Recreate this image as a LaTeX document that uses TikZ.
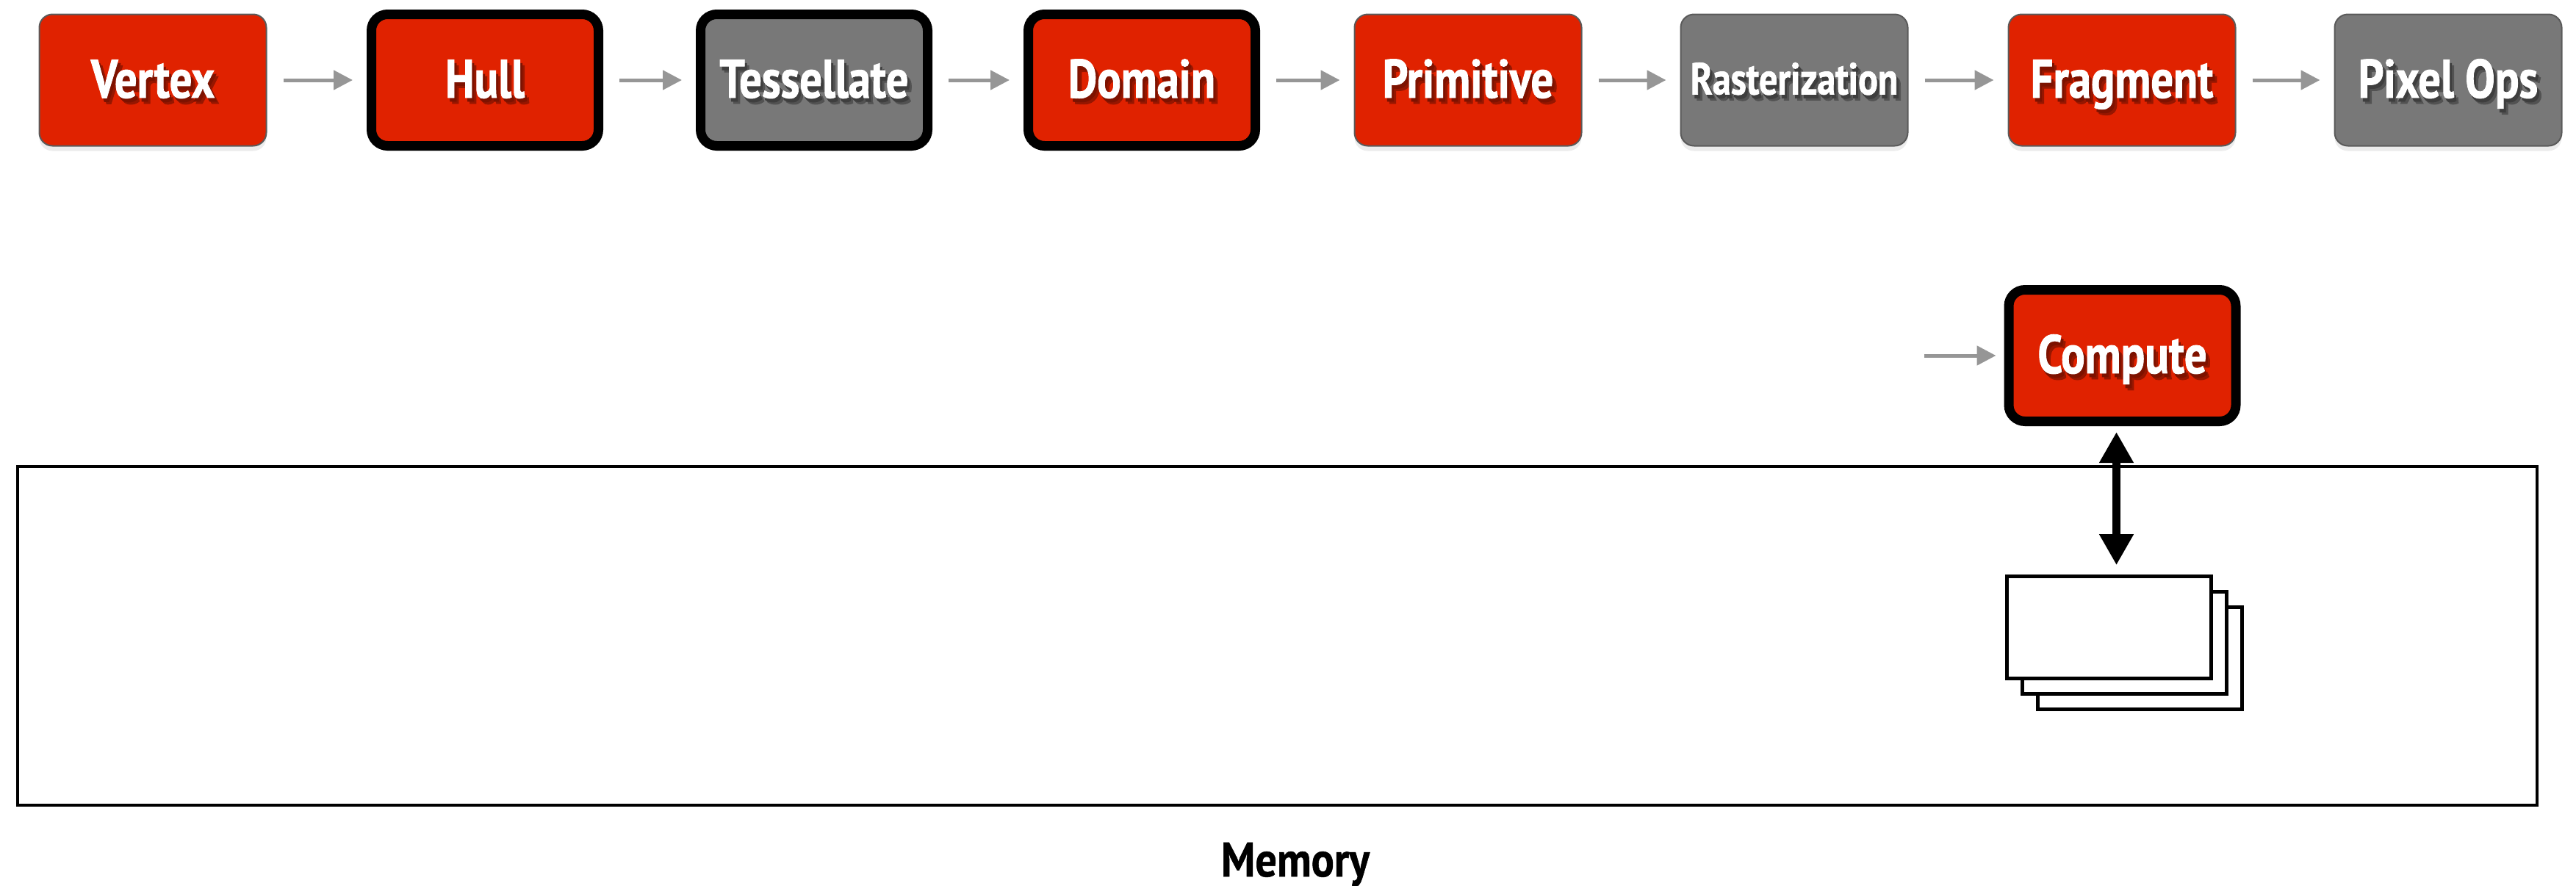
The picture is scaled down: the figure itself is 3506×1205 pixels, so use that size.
\documentclass[tikz,border=0pt]{standalone}
\usepackage{fontspec}
\newfontfamily\stagefont[FakeStretch=0.82, FakeBold=1.2]{PT Sans}
\newfontfamily\memfont[FakeStretch=0.88, FakeBold=0.8]{PT Sans}
\usetikzlibrary{arrows.meta,shadows}

\definecolor{stagered}{RGB}{224,34,0}
\definecolor{stagegray}{RGB}{120,120,120}
\definecolor{rimgray}{RGB}{90,90,90}
\definecolor{flowgray}{RGB}{150,150,150}
\definecolor{redshade}{RGB}{150,22,0}
\definecolor{redshadedeep}{RGB}{125,18,0}
\definecolor{grayshade}{RGB}{82,82,82}
\definecolor{grayshadedeep}{RGB}{62,62,62}

% white label over a soft two-step dark copy
\newcommand\shadedlabel[3]{%
  \makebox[0pt][l]{\hspace{6pt}\raisebox{-8pt}{\textcolor{#1}{#3}}}%
  \makebox[0pt][l]{\hspace{3pt}\raisebox{-5pt}{\textcolor{#2}{#3}}}%
  \textcolor{white}{#3}}
\newcommand\redlabel[1]{\shadedlabel{redshade}{redshadedeep}{#1}}
\newcommand\graylabel[1]{\shadedlabel{grayshade}{grayshadedeep}{#1}}

\tikzset{
  x=1pt, y=-1pt,
  stage/.style={rounded corners=18pt, minimum width=309pt, minimum height=179pt,
    inner sep=0pt, text height=52pt, text depth=4pt,
    font=\stagefont\bfseries\fontsize{74}{80}\selectfont,
    drop shadow={shadow xshift=0pt, shadow yshift=-7pt, opacity=0.15}},
  fixedstage/.style={stage, fill=stagegray, draw=rimgray, line width=2pt},
  shaderstage/.style={stage, fill=stagered, draw=rimgray, line width=2pt},
  newshader/.style={stage, fill=stagered, draw=black, line width=13pt, rounded corners=22pt},
  newfixed/.style={stage, fill=stagegray, draw=black, line width=13pt, rounded corners=22pt},
  flow/.style={draw=flowgray, line width=5pt, -{Triangle[length=26pt,width=26pt]},
    shorten <=22pt, shorten >=19pt},
  sheet/.style={draw=black, fill=white, line width=4.7pt, minimum width=278pt,
    minimum height=139pt, inner sep=0pt},
  access/.style={draw=black, line width=11pt,
    {Triangle[length=42pt,width=44pt]}-{Triangle[length=42pt,width=44pt]}},
}

\begin{document}
\begin{tikzpicture}
\useasboundingbox (0,0) rectangle (3506,1205);

% graphics pipeline stages
\node[shaderstage] (vertex) at (208,109) {\redlabel{Vertex}};
\node[newshader] (hull) at (660,109) {\redlabel{Hull}};
\node[newfixed] (tess) at (1108,109) {\graylabel{Tessellate}};
\node[newshader] (domain) at (1554,109) {\redlabel{Domain}};
\node[shaderstage] (primitive) at (1998,109) {\redlabel{Primitive}};
\node[fixedstage, text height=43pt, font=\stagefont\bfseries\fontsize{61}{66}\selectfont]
  (raster) at (2442,109) {\graylabel{Rasterization}};
\node[shaderstage] (fragment) at (2888,109) {\redlabel{Fragment}};
\node[fixedstage] (pixelops) at (3332,109) {\graylabel{Pixel Ops}};

\draw[flow] (vertex) -- (hull);
\draw[flow] (hull) -- (tess);
\draw[flow] (tess) -- (domain);
\draw[flow] (domain) -- (primitive);
\draw[flow] (primitive) -- (raster);
\draw[flow] (raster) -- (fragment);
\draw[flow] (fragment) -- (pixelops);

% compute stage
\node[newshader] (compute) at (2888.5,484) {\redlabel{Compute}};
\coordinate (computein) at (2619,484);
\draw[flow, shorten <=0pt, shorten >=11pt] (computein) -- (compute.west);

% memory
\node[draw=black, line width=4pt, minimum width=3429pt, minimum height=461pt, inner sep=0pt]
  (memory) at (1738.5,865.5) {};
\node[font=\memfont\bfseries\fontsize{66}{70}\selectfont, text height=46pt, text depth=0pt, inner sep=0pt]
  (memlabel) at (1763,1170) {Memory};

% stack of buffers
\node[sheet] (sheetC) at (2912.5,896) {};
\node[sheet] (sheetB) at (2891.5,875) {};
\node[sheet] (sheetA) at (2870.5,854) {};

\draw[access, shorten <=8pt, shorten >=13pt]
  ([xshift=-8pt]compute.south) -- ([xshift=-8pt]compute.south |- sheetA.north);
\end{tikzpicture}
\end{document}
